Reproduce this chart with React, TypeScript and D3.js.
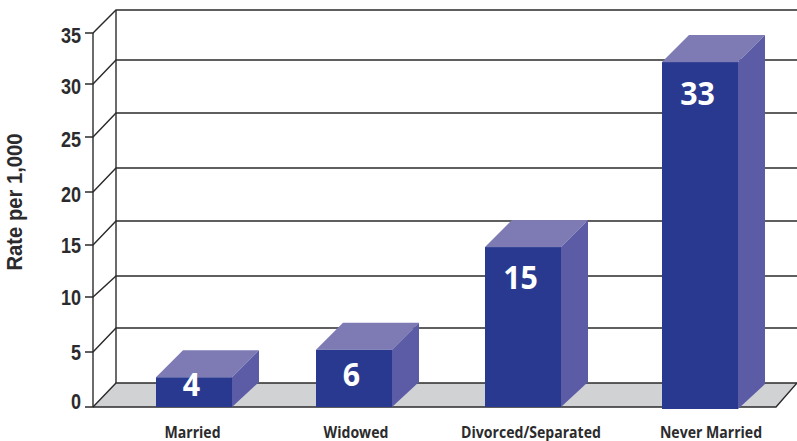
import { useEffect, useRef } from 'react'
import * as d3 from 'd3'

const categories = ['Married', 'Widowed', 'Divorced/Separated', 'Never Married']
const valueLabels = ['4', '6', '15', '33']
// drawn heights read against the axis, they sit a bit below the printed labels
const barHeights = [2.7, 5.2, 14.8, 32.15]
const tickValues = [0, 5, 10, 15, 20, 25, 30, 35]
const tickPixels = [407, 352, 297, 245, 192, 137, 84, 33]
const backPixels = [383, 328, 276, 221, 168, 113, 60, 10]
const barLefts = [156, 316, 485, 662]
const labelCenters = [192.5, 356, 531, 711]
const valueOffsets = [18.5, 36, 42, 43]

const LINE = '#2b2b2d'
const FRONT = '#2a3990'
const TOP = '#7d7ab4'
const SIDE = '#5c5ca6'
const FLOOR = '#d1d2d4'

export default function App() {
  const svgRef = useRef<SVGSVGElement>(null)

  useEffect(() => {
    if (!svgRef.current) return
    const svg = d3.select(svgRef.current)
    svg.selectAll('*').remove()

    const width = 797
    const axisX = 93
    const backX = 116
    const floorRight = 776
    const barW = 76
    const barDepth = 27

    const y = d3.scaleLinear().domain(tickValues).range(tickPixels)
    const yBack = d3.scaleLinear().domain(tickValues).range(backPixels)
    const x = d3.scaleOrdinal<string, number>().domain(categories).range(barLefts)
    const path = d3.line()

    // Floor
    svg.append('path')
      .attr('d', path([[axisX, y(0)], [backX, yBack(0)], [width, yBack(0)], [floorRight, y(0)]])! + 'Z')
      .attr('fill', FLOOR)

    // Grid
    tickValues.forEach(t => {
      svg.append('path')
        .attr('d', path([[axisX - 8, y(t)], [axisX, y(t)], [backX, yBack(t)], [width, yBack(t)]]))
        .attr('fill', 'none').attr('stroke', LINE).attr('stroke-width', 1.4)
      const baseline = y(t) + (t === 0 ? 2 : t < 20 ? 8 : 9.5)
      svg.append('text')
        .attr('transform', `translate(81,${baseline}) scale(0.82,1)`)
        .attr('text-anchor', 'end')
        .attr('font-family', '"Liberation Sans", sans-serif')
        .attr('font-weight', 700)
        .attr('font-size', 22)
        .attr('fill', LINE)
        .text(t)
    })

    // Walls and floor front edge
    const frame = svg.append('g').attr('fill', 'none').attr('stroke', LINE).attr('stroke-width', 1.4)
    frame.append('line').attr('x1', axisX).attr('x2', axisX).attr('y1', y(35)).attr('y2', y(0))
    frame.append('line').attr('x1', backX).attr('x2', backX).attr('y1', yBack(35)).attr('y2', yBack(0))
    frame.append('path').attr('d', path([[axisX, y(0)], [floorRight, y(0)], [width, yBack(0)]]))

    // Bars
    categories.forEach((c, i) => {
      const left = x(c)
      const right = left + barW
      const top = y(barHeights[i])
      const base = y(0) + (i === 3 ? 2 : 0)

      svg.append('path')
        .attr('d', path([[left, top], [left + barDepth, top - barDepth], [right + barDepth, top - barDepth], [right, top]])! + 'Z')
        .attr('fill', TOP)
      svg.append('path')
        .attr('d', path([[right, top], [right + barDepth, top - barDepth], [right + barDepth, base - barDepth + 2], [right, base]])! + 'Z')
        .attr('fill', SIDE)
      svg.append('rect')
        .attr('x', left).attr('y', top).attr('width', barW).attr('height', base - top)
        .attr('fill', FRONT)

      svg.append('text')
        .attr('transform', `translate(${left + barW / 2 - 2.5},${top + valueOffsets[i]}) scale(0.92,1)`)
        .attr('text-anchor', 'middle')
        .attr('font-family', '"Open Sans", sans-serif')
        .attr('font-weight', 700)
        .attr('font-size', 33)
        .attr('fill', '#fff')
        .text(valueLabels[i])

      svg.append('text')
        .attr('transform', `translate(${labelCenters[i]},438) scale(0.88,1)`)
        .attr('text-anchor', 'middle')
        .attr('font-family', '"Open Sans", sans-serif')
        .attr('font-weight', 700)
        .attr('font-size', 16)
        .attr('fill', LINE)
        .text(c)
    })

    // Axis title
    svg.append('text')
      .attr('transform', 'translate(22,202) rotate(-90) scale(0.92,1)')
      .attr('text-anchor', 'middle')
      .attr('font-family', '"Liberation Sans", sans-serif')
      .attr('font-weight', 700)
      .attr('font-size', 22)
      .attr('fill', LINE)
      .text('Rate per 1,000')
  }, [])

  return <svg ref={svgRef} width={797} height={441} style={{ position: 'absolute', left: 0, top: 0, background: '#fff' }} />
}
